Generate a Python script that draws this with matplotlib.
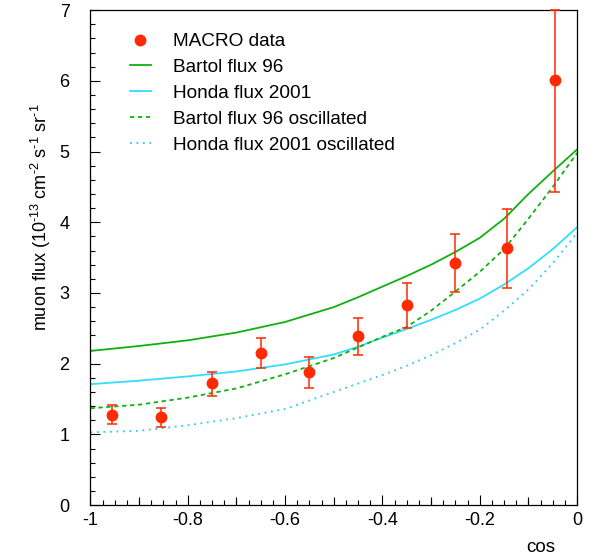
import numpy as np
import matplotlib
matplotlib.use("Agg")
import matplotlib.pyplot as plt
from matplotlib.ticker import MultipleLocator
from matplotlib.lines import Line2D

plt.rcParams['font.family'] = ['Liberation Sans', 'DejaVu Sans']
plt.rcParams['mathtext.fontset'] = 'custom'
plt.rcParams['mathtext.rm'] = 'Liberation Sans'
plt.rcParams['mathtext.it'] = 'Liberation Sans:italic'

# MACRO data points
cos_data = [-0.955, -0.855, -0.75, -0.65, -0.55, -0.45, -0.35, -0.25, -0.145, -0.045]
flux_data = [1.28, 1.24, 1.72, 2.15, 1.88, 2.39, 2.83, 3.43, 3.63, 6.01]
err_lo = [1.15, 1.10, 1.54, 1.94, 1.66, 2.12, 2.50, 3.01, 3.07, 4.43]
err_hi = [1.42, 1.38, 1.88, 2.36, 2.09, 2.65, 3.14, 3.84, 4.19, 7.00]

# predictions
cos_grid = [-1.0, -0.9, -0.8, -0.7, -0.6, -0.5, -0.45, -0.4, -0.35, -0.3, -0.25,
            -0.2, -0.15, -0.1, -0.05, 0.0]
bartol = [2.18, 2.25, 2.33, 2.44, 2.59, 2.80, 2.94, 3.09, 3.24, 3.40, 3.58,
          3.78, 4.05, 4.40, 4.72, 5.03]
honda = [1.71, 1.76, 1.82, 1.89, 1.99, 2.13, 2.24, 2.37, 2.49, 2.62, 2.76,
         2.92, 3.12, 3.35, 3.62, 3.93]
bartol_osc = [1.37, 1.42, 1.52, 1.65, 1.85, 2.08, 2.23, 2.38, 2.52, 2.75, 3.02,
              3.30, 3.62, 4.05, 4.50, 4.98]
honda_osc = [1.03, 1.05, 1.13, 1.23, 1.36, 1.60, 1.72, 1.84, 1.97, 2.12, 2.29,
             2.48, 2.75, 3.05, 3.42, 3.85]

red = '#ff2a00'
green = '#10b010'
cyan = '#33ddff'
cyan_dot = '#30c8f0'

fig = plt.figure(figsize=(5.95, 5.6), dpi=100)
ax = fig.add_axes([0.152, 0.098, 0.818, 0.884])

l1, = ax.plot(cos_grid, bartol, color=green, lw=1.3)
l2, = ax.plot(cos_grid, honda, color=cyan, lw=1.3)
l3, = ax.plot(cos_grid, bartol_osc, color=green, lw=1.3, ls=(0, (2.4, 2.0)))
l4, = ax.plot(cos_grid, honda_osc, color=cyan_dot, lw=1.3, ls=(0, (1, 2.6)))

y = np.array(flux_data)
yerr = [y - np.array(err_lo), np.array(err_hi) - y]
eb = ax.errorbar(cos_data, flux_data, yerr=yerr, fmt='o', color=red, ms=7.5,
                 elinewidth=1.1, capsize=3.8, capthick=1.1, zorder=5)
for art in eb.lines[1] + eb.lines[2]:
    art.set_clip_on(False)

ax.set_xlim(-1, 0)
ax.set_ylim(0, 7)

ax.set_xticks(np.arange(-1.0, 0.01, 0.2))
ax.set_xticklabels(['-1', '-0.8', '-0.6', '-0.4', '-0.2', '0'])
ax.set_yticks(range(8))
ax.set_yticklabels([str(i) for i in range(8)])
ax.xaxis.set_minor_locator(MultipleLocator(0.025))
ax.yaxis.set_minor_locator(MultipleLocator(0.2))
ax.tick_params(which='both', direction='in', top=False, right=False,
               labelsize=13)
ax.tick_params(axis='x', which='major', length=7, width=0.8, pad=5)
ax.tick_params(axis='x', which='minor', length=3.5, width=0.8)
ax.tick_params(axis='y', which='major', length=7, width=0.8, pad=15)
ax.tick_params(axis='y', which='minor', length=3.5, width=0.8)

# medium ticks every 0.1
sec = ax.secondary_xaxis('bottom')
sec.set_xticks(np.arange(-0.9, 0, 0.2))
sec.tick_params(direction='in', length=5.5, width=0.8, labelbottom=False)
sec.spines['bottom'].set_visible(False)

for s in ax.spines.values():
    s.set_linewidth(0.9)

fig.text(0.068, 0.612,
         r'muon flux (10$^{\text{-13}}$ cm$^{\text{-2}}$ s$^{\text{-1}}$ sr$^{\text{-1}}$',
         rotation=90, ha='center', va='center', fontsize=13)
fig.text(0.909, 0.023, 'cos', ha='center', va='center', fontsize=13.5)

dot = Line2D([], [], marker='o', ls='none', color=red, ms=7.5)
ax.legend([dot, l1, l2, l3, l4],
          ['MACRO data', 'Bartol flux 96', 'Honda flux 2001',
           'Bartol flux 96 oscillated', 'Honda flux 2001 oscillated'],
          loc='upper left', bbox_to_anchor=(0.081, 0.954), frameon=False,
          fontsize=13.7, handlelength=1.1, handletextpad=1.15,
          labelspacing=0.455, borderaxespad=0, borderpad=0)

fig.savefig('out.png', dpi=100)
